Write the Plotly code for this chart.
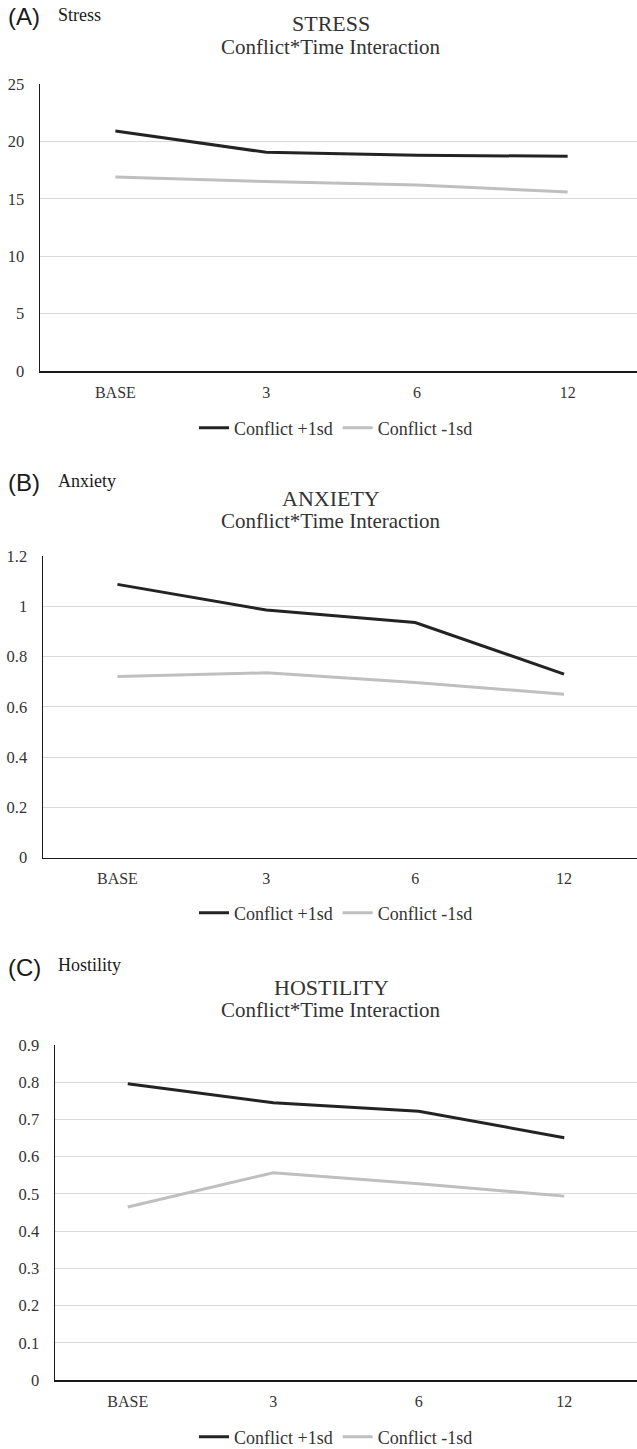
import plotly.graph_objects as go

W, H = 637, 1449

categories = ["BASE", "3", "6", "12"]

stress_high = [20.9, 19.05, 18.8, 18.7]
stress_low = [16.9, 16.5, 16.2, 15.6]

anxiety_high = [1.087, 0.985, 0.935, 0.73]
anxiety_low = [0.72, 0.735, 0.697, 0.65]

hostility_high = [0.796, 0.745, 0.722, 0.651]
hostility_low = [0.465, 0.557, 0.527, 0.494]

series_names = ["Conflict +1sd", "Conflict -1sd"]

panel_letters = ["(A)", "(B)", "(C)"]
panel_labels = ["Stress", "Anxiety", "Hostility"]
panel_titles = ["STRESS", "ANXIETY", "HOSTILITY"]
subtitle = "Conflict*Time Interaction"

y_ranges = [[0, 25], [0, 1.2], [0, 0.9]]
y_tickvals = [
    [0, 5, 10, 15, 20, 25],
    [0, 0.2, 0.4, 0.6, 0.8, 1, 1.2],
    [0, 0.1, 0.2, 0.3, 0.4, 0.5, 0.6, 0.7, 0.8, 0.9],
]
y_ticktext = [
    ["0", "5", "10", "15", "20", "25"],
    ["0", "0.2", "0.4", "0.6", "0.8", "1", "1.2"],
    ["0", "0.1", "0.2", "0.3", "0.4", "0.5", "0.6", "0.7", "0.8", "0.9"],
]

# layout in pixels: (axis_x_left, plot_top_px, plot_bottom_px, x_range_right)
panels_px = [
    (40, 84, 371, 3.46),
    (43, 556, 857.5, 3.49),
    (55, 1045, 1380, 3.50),
]
title_px = [(24, 47, 17), (498, 521, 483), (987, 1010, 967)]
legend_px = [428, 913, 1437]

data_sets = [
    (stress_high, stress_low),
    (anxiety_high, anxiety_low),
    (hostility_high, hostility_low),
]

serif = "Liberation Serif, Times New Roman, serif"
sans = "Liberation Sans, Arial, sans-serif"
dark = "#232323"
grey = "#bfbfbf"
text_col = "#333333"

fig = go.Figure()
annotations = []
layout_kwargs = {}

for i in range(3):
    ax_suffix = "" if i == 0 else str(i + 1)
    xa = "x" + ax_suffix
    ya = "y" + ax_suffix
    leg = "legend" if i == 0 else "legend" + str(i + 1)
    hi, lo = data_sets[i]
    fig.add_trace(go.Scatter(
        x=categories, y=hi, mode="lines", name=series_names[0],
        line=dict(color=dark, width=3), xaxis=xa, yaxis=ya, legend=leg,
    ))
    fig.add_trace(go.Scatter(
        x=categories, y=lo, mode="lines", name=series_names[1],
        line=dict(color=grey, width=3), xaxis=xa, yaxis=ya, legend=leg,
    ))
    axl, top, bot, xr = panels_px[i]
    layout_kwargs["xaxis" + ax_suffix] = dict(
        domain=[axl / W, 1.0],
        anchor=ya,
        type="category",
        range=[-0.5, xr],
        showgrid=False,
        showline=True, linecolor="#1a1a1a", linewidth=1.5,
        ticks="", tickfont=dict(family=serif, size=16, color=text_col),
        ticklabelstandoff=6,
        automargin=False,
        fixedrange=True,
    )
    layout_kwargs["yaxis" + ax_suffix] = dict(
        domain=[1 - bot / H, 1 - top / H],
        anchor=xa,
        range=y_ranges[i],
        tickvals=y_tickvals[i], ticktext=y_ticktext[i],
        showgrid=True, gridcolor="#d9d9d9", gridwidth=1,
        zeroline=False,
        showline=True, linecolor="#1a1a1a", linewidth=1.5,
        ticks="", tickfont=dict(family=serif, size=16.5, color=text_col),
        ticklabelstandoff=11,
        automargin=False,
        fixedrange=True,
    )
    layout_kwargs[leg] = dict(
        orientation="h", x=336 / W, xanchor="center",
        y=1 - legend_px[i] / H, yanchor="middle",
        font=dict(family=serif, size=18, color=text_col),
        bgcolor="rgba(0,0,0,0)", itemwidth=30, tracegroupgap=0,
    )
    t1, t2, tl = title_px[i]
    annotations.append(dict(
        text=panel_titles[i], x=331 / W, y=1 - t1 / H, xref="paper", yref="paper",
        xanchor="center", yanchor="middle", showarrow=False,
        font=dict(family=serif, size=22, color=text_col),
    ))
    annotations.append(dict(
        text=subtitle, x=331 / W, y=1 - t2 / H, xref="paper", yref="paper",
        xanchor="center", yanchor="middle", showarrow=False,
        font=dict(family=serif, size=21, color=text_col),
    ))
    annotations.append(dict(
        text=panel_letters[i], x=6 / W, y=1 - tl / H, xref="paper", yref="paper",
        xanchor="left", yanchor="middle", showarrow=False,
        font=dict(family=sans, size=24, color="#1a1a1a"),
    ))
    annotations.append(dict(
        text=panel_labels[i], x=56 / W, y=1 - (tl - 2) / H, xref="paper", yref="paper",
        xanchor="left", yanchor="middle", showarrow=False,
        font=dict(family=serif, size=18, color="#1a1a1a"),
    ))

fig.update_layout(
    width=W, height=H,
    autosize=False,
    margin=dict(l=0, r=0, t=0, b=0, pad=0, autoexpand=False),
    paper_bgcolor="white", plot_bgcolor="white",
    annotations=annotations,
    showlegend=True,
    **layout_kwargs,
)

fig.write_html(
    "out.html",
    config={"displayModeBar": False, "staticPlot": True},
    post_script="document.body.style.margin='0';document.body.style.padding='0';"
                "document.documentElement.style.overflow='hidden';",
)
